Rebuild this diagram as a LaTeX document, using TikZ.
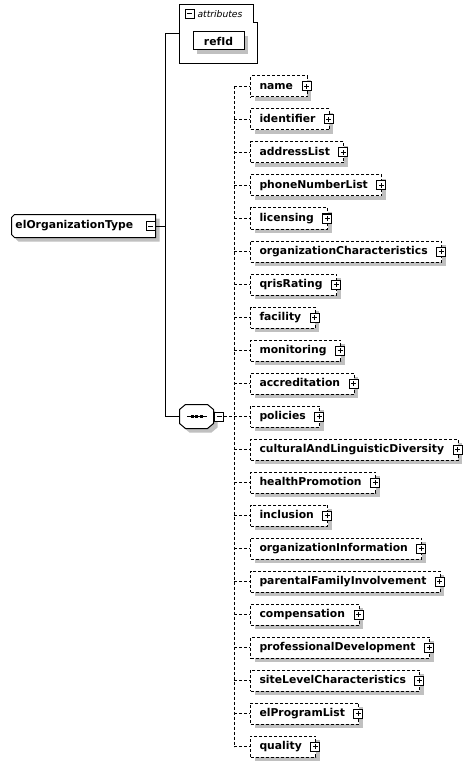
\documentclass[tikz,border=0pt]{standalone}
\usepackage{fontspec}
\setmainfont{DejaVu Sans}
\usetikzlibrary{shadows}
\definecolor{shadowgray}{RGB}{192,192,192}
\begin{document}
\begin{tikzpicture}[x=1pt,y=-1pt,line width=1pt,
  shad/.style={drop shadow={shadow xshift=4pt,shadow yshift=-4pt,fill=shadowgray,opacity=1}},
  elem/.style={draw,dash pattern=on 3pt off 2pt,fill=white,shad,minimum height=21pt,
    inner xsep=9pt,inner ysep=0pt,anchor=west,text height=8.2pt,text depth=2.6pt,
    font=\bfseries\fontsize{10.8}{12}\selectfont},
  iconbase/.style={draw,solid,fill=white,minimum size=9pt,inner sep=0pt,line width=1pt},
  plusicon/.style={iconbase,path picture={\draw[line width=1pt]
      ([xshift=-2.5pt]path picture bounding box.center) -- ([xshift=2.5pt]path picture bounding box.center)
      ([yshift=-2.5pt]path picture bounding box.center) -- ([yshift=2.5pt]path picture bounding box.center);}},
  minusicon/.style={iconbase,path picture={\draw[line width=1pt]
      ([xshift=-2.5pt]path picture bounding box.center) -- ([xshift=2.5pt]path picture bounding box.center);}},
  link/.style={draw,line width=1pt},
  dlink/.style={draw,line width=1pt,dash pattern=on 3pt off 2pt}
]
\useasboundingbox[fill=white] (0,0) rectangle (472,767);

% attributes group
\node[minimum width=77pt,minimum height=58pt,inner sep=0pt] (attr) at (218.5,34) {};
\draw (attr.north west) -- ([xshift=-4pt]attr.north east) -- ++(0,18) -- ++(4,0)
  -- (attr.south east) -- (attr.south west) -- cycle;
\node[minusicon] (attri) at (189.5,14) {};
\node[anchor=west,inner sep=0pt,font=\itshape\fontsize{9.2}{11}\selectfont] (attrl) at (197,14) {attributes};
\node[draw,fill=white,shad,minimum width=51pt,minimum height=18pt,inner sep=0pt,
  font=\bfseries\fontsize{10.8}{12}\selectfont] (refid) at (218.5,41) {refId};

% main element
\node[minimum width=143pt,minimum height=22pt,inner sep=0pt] (main) at (83.5,226) {};
\draw[fill=white,shad] ([xshift=3pt]main.north west) -- (main.north east) -- (main.south east)
  -- ([xshift=3pt]main.south west) -- ([yshift=3pt]main.south west)
  -- ([yshift=-3pt]main.north west) -- cycle;
\node[anchor=west,inner sep=0pt,font=\bfseries\fontsize{10.8}{12}\selectfont] (mainl) at (15,226) {elOrganizationType};
\node[minusicon] (mi) at (150.5,226) {};

% sequence compositor
\node[minimum width=33pt,minimum height=23pt,inner sep=0pt] (seq) at (196.5,416.5) {};
\draw[fill=white,shad] ([xshift=6pt]seq.north west) -- ([xshift=-6pt]seq.north east)
  -- ([yshift=-5pt]seq.north east) -- ([yshift=5pt]seq.south east)
  -- ([xshift=-6pt]seq.south east) -- ([xshift=6pt]seq.south west)
  -- ([yshift=5pt]seq.south west) -- ([yshift=-5pt]seq.north west) -- cycle;
\draw ([xshift=-9.5pt]seq.center) -- ([xshift=10pt]seq.center);
\foreach \dx in {-4.5,0,4.5}
  \fill ([xshift=\dx pt]seq.center) +(-1.5pt,-1.5pt) rectangle +(1.5pt,1.5pt);
\node[minusicon] (si) at (219,416.5) {};

% trunk connectors
\coordinate (trunk) at (165,226);
\draw[link] (mi.east) -- (trunk);
\draw[link] (attr.west) -- (attr.west -| trunk) |- (seq.west);

% children
\foreach \t [count=\i from 0] in {name,identifier,addressList,phoneNumberList,licensing,
  organizationCharacteristics,qrisRating,facility,monitoring,accreditation,policies,
  culturalAndLinguisticDiversity,healthPromotion,inclusion,organizationInformation,
  parentalFamilyInvolvement,compensation,professionalDevelopment,siteLevelCharacteristics,
  elProgramList,quality}{
  \pgfmathsetmacro\yy{86.5+33*\i}
  \node[elem] (e\i) at (250,\yy) {\t\hspace*{5pt}};
  \node[plusicon] (p\i) at ([xshift=-1pt]e\i.east) {};
  \coordinate (j\i) at (234,\yy);
  \draw[dlink] (j\i) -- (e\i.west);
}
\draw[dlink] (j0) -- (j20);
\draw[dlink] (si.east) -- (j10);
\end{tikzpicture}
\end{document}
